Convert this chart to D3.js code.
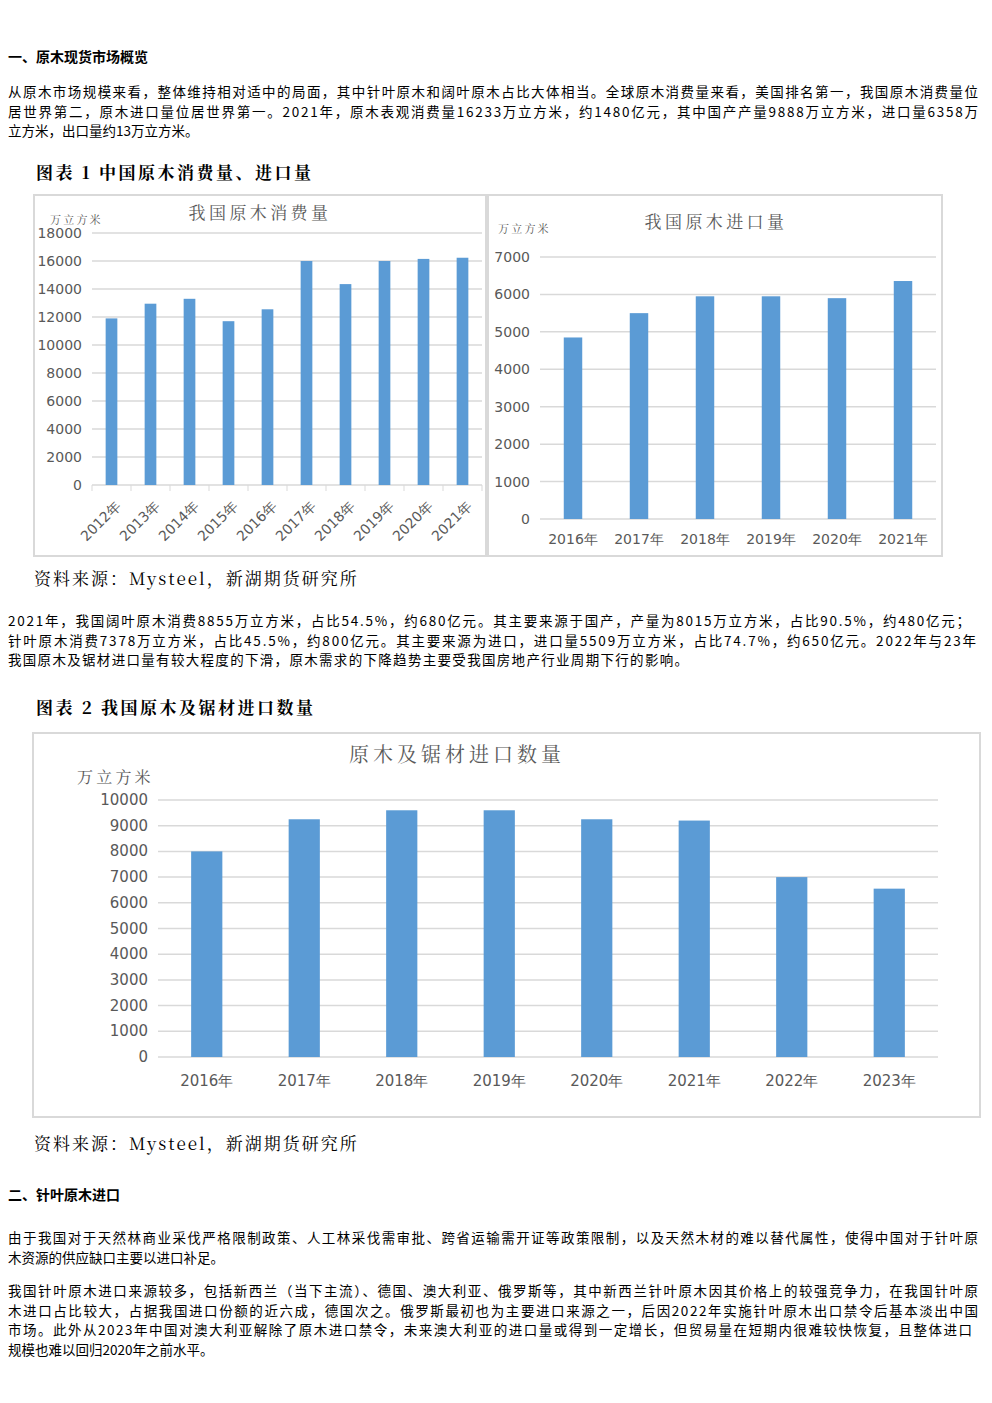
<!DOCTYPE html>
<html><head><meta charset="utf-8">
<script src="https://cdn.jsdelivr.net/npm/d3@7"></script>
<style>
body{margin:0;background:#fff;font-family:"Noto Sans CJK SC","DejaVu Sans",sans-serif;}
svg{display:block}
</style></head><body>
<svg id="c" width="992" height="1403"></svg>
<script>
const years1=["2012年","2013年","2014年","2015年","2016年","2017年","2018年","2019年","2020年","2021年"];
const consumption=[11900,12950,13300,11700,12550,16000,14350,16000,16150,16233];
const yTicks1=[0,2000,4000,6000,8000,10000,12000,14000,16000,18000];
const years2=["2016年","2017年","2018年","2019年","2020年","2021年"];
const imports=[4850,5500,5950,5950,5900,6358];
const yTicks2=[0,1000,2000,3000,4000,5000,6000,7000];
const years3=["2016年","2017年","2018年","2019年","2020年","2021年","2022年","2023年"];
const importsLS=[8000,9250,9600,9600,9250,9200,7000,6550];
const yTicks3=[0,1000,2000,3000,4000,5000,6000,7000,8000,9000,10000];

const svg=d3.select("#c");
const BLUE="#5b9bd5",GRID="#d9d9d9",TXT="#595959";
function text(x,y,s,o={}){const t=svg.append("text").attr("x",x).attr("y",y).text(s)
 .attr("font-size",o.size||14).attr("font-weight",o.bold?"bold":"normal").attr("fill",o.fill||"#000")
 .attr("text-anchor",o.anchor||"start").attr("font-family",o.font||"Noto Sans CJK SC");
 if(o.ls)t.attr("letter-spacing",o.ls);
 if(o.len)t.attr("textLength",o.len).attr("lengthAdjust","spacing");return t;}
const SERIF="Noto Serif CJK SC, Noto Sans CJK SC";
function para(lines,y0,lens){lines.forEach((s,i)=>text(8,y0+i*19.5,s,{size:13.5,len:lens[i]}));}
text(8,62,"一、原木现货市场概览",{size:14,bold:true});
para(["从原木市场规模来看，整体维持相对适中的局面，其中针叶原木和阔叶原木占比大体相当。全球原木消费量来看，美国排名第一，我国原木消费量位",
"居世界第二，原木进口量位居世界第一。2021年，原木表观消费量16233万立方米，约1480亿元，其中国产产量9888万立方米，进口量6358万",
"立方米，出口量约13万立方米。"],97,[970,970,null]);
text(36,179,"图表 1  中国原木消费量、进口量",{size:17,bold:true,font:SERIF,ls:2.5});
text(34,585,"资料来源：Mysteel，新湖期货研究所",{size:17,font:SERIF,ls:2});
para(["2021年，我国阔叶原木消费8855万立方米，占比54.5%，约680亿元。其主要来源于国产，产量为8015万立方米，占比90.5%，约480亿元；",
"针叶原木消费7378万立方米，占比45.5%，约800亿元。其主要来源为进口，进口量5509万立方米，占比74.7%，约650亿元。2022年与23年",
"我国原木及锯材进口量有较大程度的下滑，原木需求的下降趋势主要受我国房地产行业周期下行的影响。"],626,[962,968,680]);
text(36,714,"图表 2  我国原木及锯材进口数量",{size:17,bold:true,font:SERIF,ls:2.5});
text(34,1150,"资料来源：Mysteel，新湖期货研究所",{size:17,font:SERIF,ls:2});
text(8,1200,"二、针叶原木进口",{size:14,bold:true});
para(["由于我国对于天然林商业采伐严格限制政策、人工林采伐需审批、跨省运输需开证等政策限制，以及天然木材的难以替代属性，使得中国对于针叶原",
"木资源的供应缺口主要以进口补足。"],1243,[970,null]);
para(["我国针叶原木进口来源较多，包括新西兰（当下主流）、德国、澳大利亚、俄罗斯等，其中新西兰针叶原木因其价格上的较强竞争力，在我国针叶原",
"木进口占比较大，占据我国进口份额的近六成，德国次之。俄罗斯最初也为主要进口来源之一，后因2022年实施针叶原木出口禁令后基本淡出中国",
"市场。此外从2023年中国对澳大利亚解除了原木进口禁令，未来澳大利亚的进口量或得到一定增长，但贸易量在短期内很难较快恢复，且整体进口",
"规模也难以回归2020年之前水平。"],1296,[970,970,964,null]);

function chart(o){
 svg.append("rect").attr("x",o.bx).attr("y",o.by).attr("width",o.bw).attr("height",o.bh)
   .attr("fill","#fff").attr("stroke","#d9d9d9").attr("stroke-width",2);
 const x=d3.scaleBand().domain(o.cats).range([o.x0,o.x1]).paddingInner(o.pad).paddingOuter(o.pad/2);
 const y=d3.scaleLinear().domain([0,o.max]).range([o.y0,o.y1]);
 const g=svg.append("g");
 o.ticks.forEach(t=>{g.append("line").attr("x1",o.x0).attr("x2",o.x1).attr("y1",y(t)).attr("y2",y(t)).attr("stroke",GRID).attr("stroke-width",1.5);
   g.append("text").attr("x",o.x0-10).attr("y",y(t)+5).attr("text-anchor","end").attr("font-size",o.fs).attr("fill",TXT).attr("font-family","DejaVu Sans").text(t);});
 g.selectAll("rect.b").data(o.vals).enter().append("rect").attr("x",(d,i)=>x(o.cats[i])).attr("width",x.bandwidth())
   .attr("y",d=>y(d)).attr("height",d=>o.y0-y(d)).attr("fill",BLUE);
 if(o.tickmarks){const step=(o.x1-o.x0)/o.cats.length;
   for(let i=0;i<=o.cats.length;i++)g.append("line").attr("x1",o.x0+i*step).attr("x2",o.x0+i*step).attr("y1",o.y0).attr("y2",o.y0+6).attr("stroke",GRID);}
 o.cats.forEach(c=>{const cx=x(c)+x.bandwidth()/2;
   if(o.rot) g.append("text").attr("transform",`translate(${cx+10},${o.y0+22}) rotate(-45)`).attr("text-anchor","end").attr("font-size",o.fs).attr("fill",TXT).attr("font-family","DejaVu Sans").text(c);
   else g.append("text").attr("x",cx).attr("y",o.y0+o.lab).attr("text-anchor","middle").attr("font-size",o.fs).attr("fill",TXT).attr("font-family","DejaVu Sans").text(c);});
 text(o.tx,o.ty,o.title,{size:o.ts,anchor:"middle",fill:TXT,font:SERIF,ls:o.ts*0.2});
 text(o.ux,o.uy,"万立方米",{size:o.us,fill:TXT,font:SERIF,ls:o.us*0.2});
}
chart({bx:34,by:195,bw:452,bh:361,cats:years1,vals:consumption,ticks:yTicks1,max:18000,x0:92,x1:482,y0:485,y1:233,pad:0.7,fs:14,rot:true,tickmarks:true,tx:260,ty:219,title:"我国原木消费量",ts:17,ux:50,uy:224,us:11});
chart({bx:488,by:195,bw:454,bh:361,cats:years2,vals:imports,ticks:yTicks2,max:7000,x0:540,x1:936,y0:519,y1:257,pad:0.72,fs:14,lab:25,tx:716,ty:228,title:"我国原木进口量",ts:17,ux:498,uy:233,us:11});
chart({bx:33,by:733,bw:947,bh:384,cats:years3,vals:importsLS,ticks:yTicks3,max:10000,x0:158,x1:938,y0:1057,y1:800,pad:0.68,fs:15,lab:29,tx:457,ty:762,title:"原木及锯材进口数量",ts:20,ux:77,uy:783,us:16});
</script></body></html>
